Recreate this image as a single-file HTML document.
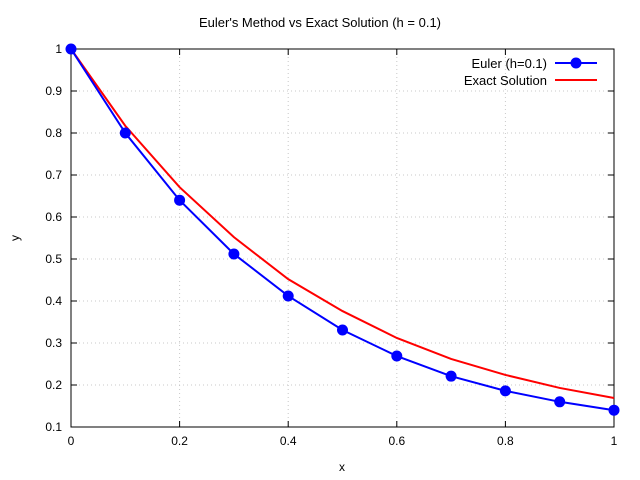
<!DOCTYPE html>
<html><head><meta charset="utf-8"><style>
html,body{margin:0;padding:0;background:#fff;}
svg{display:block;font-family:"Liberation Sans",sans-serif;}
</style></head><body>
<svg id="chart" width="640" height="480" viewBox="0 0 640 480"></svg>
<script>
const xValues = [0,0.1,0.2,0.3,0.4,0.5,0.6,0.7,0.8,0.9,1.0];
const eulerValues = [1,0.8,0.64,0.512,0.412,0.331,0.269,0.221,0.186,0.16,0.14];
const exactValues = [1,0.817,0.671,0.552,0.452,0.376,0.312,0.262,0.224,0.193,0.169];
const xTickValues = [0,0.2,0.4,0.6,0.8,1];
const xTickLabels = ["0","0.2","0.4","0.6","0.8","1"];
const yTickValues = [0.1,0.2,0.3,0.4,0.5,0.6,0.7,0.8,0.9,1];
const yTickLabels = ["0.1","0.2","0.3","0.4","0.5","0.6","0.7","0.8","0.9","1"];

const NS="http://www.w3.org/2000/svg";
const svg=document.getElementById('chart');
const L=71,R=614,T=49,B=427;
const sx=v=>L+(v-0)/(1-0)*(R-L);
const sy=v=>B-(v-0.1)/(1-0.1)*(B-T);
function mk(tag,attrs,parent){const e=document.createElementNS(NS,tag);for(const k in attrs)e.setAttribute(k,attrs[k]);(parent||svg).appendChild(e);return e;}

// grid
const grid=mk('g',{});


xTickValues.forEach(v=>{if(v>0&&v<1)mk('line',{x1:sx(v),x2:sx(v),y1:T,y2:B,stroke:'#c8c8c8','stroke-dasharray':'1,3'},grid);});
yTickValues.forEach(v=>{if(v>0.1&&v<1)mk('line',{x1:L,x2:R,y1:sy(v),y2:sy(v),stroke:'#c8c8c8','stroke-dasharray':'1,3'},grid);});

// frame
const frame=mk('rect',{x:L,y:T,width:R-L,height:B-T,fill:'none',stroke:'#000'});



// ticks
xTickValues.forEach((v,i)=>{
  mk('line',{x1:sx(v),x2:sx(v),y1:B,y2:B-6,stroke:'#000'});
  mk('line',{x1:sx(v),x2:sx(v),y1:T,y2:T+6,stroke:'#000'});
  const t=mk('text',{x:sx(v),y:B+18,'text-anchor':'middle','font-size':12});
  t.textContent=xTickLabels[i];
  
  
});
yTickValues.forEach((v,i)=>{
  mk('line',{x1:L,x2:L+6,y1:sy(v),y2:sy(v),stroke:'#000'});
  mk('line',{x1:R,x2:R-6,y1:sy(v),y2:sy(v),stroke:'#000'});
  const t=mk('text',{x:L-9,y:sy(v)+4,'text-anchor':'end','font-size':12});
  t.textContent=yTickLabels[i];
  
  
});

// series
const exact=mk('polyline',{points:xValues.map((x,i)=>sx(x)+','+sy(exactValues[i])).join(' '),fill:'none',stroke:'#ff0000','stroke-width':2});


const euler=mk('polyline',{points:xValues.map((x,i)=>sx(x)+','+sy(eulerValues[i])).join(' '),fill:'none',stroke:'#0000ff','stroke-width':2});


xValues.forEach((x,i)=>{
  const c=mk('circle',{cx:sx(x),cy:sy(eulerValues[i]),r:5.5,fill:'#0000ff'});
  
  
});

// titles
const title=mk('text',{x:320,y:27,'text-anchor':'middle','font-size':13});
title.textContent="Euler's Method vs Exact Solution (h = 0.1)";


const xt=mk('text',{x:342,y:471,'text-anchor':'middle','font-size':12});
xt.textContent='x';


const yt=mk('text',{x:19,y:238,'text-anchor':'middle','font-size':12,transform:'rotate(-90 19 238)'});
yt.textContent='y';



// legend
const lg=mk('g',{});


const l1=mk('text',{x:547,y:68,'text-anchor':'end','font-size':13},lg);
l1.textContent='Euler (h=0.1)';


mk('line',{x1:555,x2:597,y1:63,y2:63,stroke:'#0000ff','stroke-width':2},lg);
mk('circle',{cx:576,cy:63,r:5.5,fill:'#0000ff'},lg);
const l2=mk('text',{x:547,y:85,'text-anchor':'end','font-size':13},lg);
l2.textContent='Exact Solution';


mk('line',{x1:555,x2:597,y1:80,y2:80,stroke:'#ff0000','stroke-width':2},lg);
</script>
</body></html>
